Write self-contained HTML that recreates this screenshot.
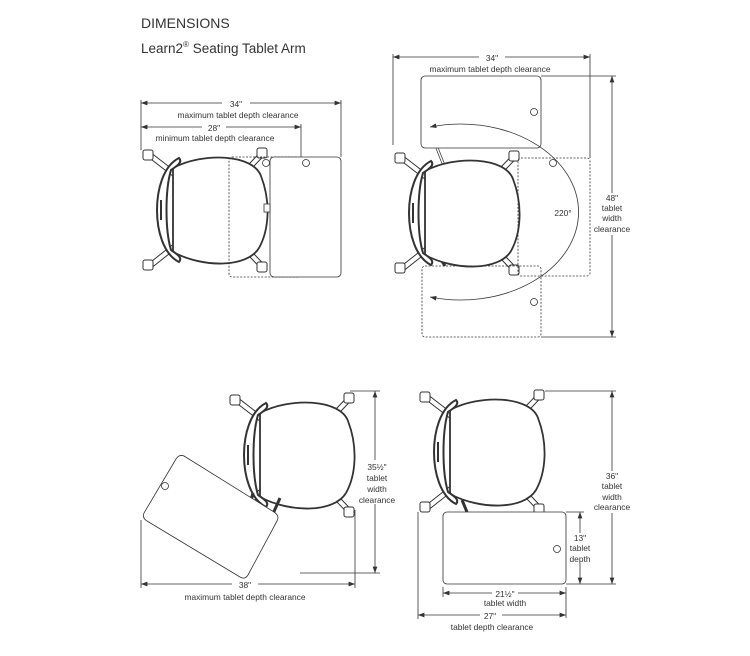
<!DOCTYPE html>
<html><head><meta charset="utf-8"><style>
html,body{margin:0;padding:0;background:#fff;width:750px;height:656px;overflow:hidden}
svg{display:block}
text{font-family:"Liberation Sans",sans-serif;fill:#333}
.s{font-size:8.4px;text-anchor:middle}
</style></head><body>
<svg width="750" height="656" viewBox="0 0 750 656">
<defs>
<marker id="a" markerWidth="8" markerHeight="6" refX="8" refY="3" orient="auto-start-reverse"><path d="M0,0 L8,3 L0,6 z" fill="#333"/></marker>
<g id="chair" stroke="#333" fill="#fff">
 <line x1="-5" y1="-10" x2="-62" y2="-54" stroke-width="6" stroke="#333"/>
 <line x1="-5" y1="-10" x2="-62" y2="-54" stroke-width="4" stroke="#fff"/>
 <line x1="-5" y1="10" x2="-62" y2="55" stroke-width="6" stroke="#333"/>
 <line x1="-5" y1="10" x2="-62" y2="55" stroke-width="4" stroke="#fff"/>
 <line x1="5" y1="-10" x2="50" y2="-57" stroke-width="6" stroke="#333"/>
 <line x1="5" y1="-10" x2="50" y2="-57" stroke-width="4" stroke="#fff"/>
 <line x1="5" y1="10" x2="50" y2="57" stroke-width="6" stroke="#333"/>
 <line x1="5" y1="10" x2="50" y2="57" stroke-width="4" stroke="#fff"/>
 <rect x="-70" y="-60" width="10" height="10" rx="2" stroke-width="1"/>
 <rect x="-70" y="50" width="10" height="10" rx="2" stroke-width="1"/>
 <rect x="44" y="-62" width="10" height="10" rx="2" stroke-width="1"/>
 <rect x="44" y="52" width="10" height="10" rx="2" stroke-width="1"/>
 <path d="M-40,-42 C-10,-58 40,-56 48,-34 C58,-8 56,20 46,38 C34,58 -10,58 -40,42 Z" stroke-width="1.8"/>
 <path d="M-34,-52 C-50,-44 -56,-20 -56,0 C-56,20 -50,44 -34,52 C-30,48 -36,44 -42,40 C-48,20 -48,-20 -42,-40 C-36,-44 -30,-48 -34,-52 Z" stroke-width="2"/>
 <line x1="-52" y1="-10" x2="-52" y2="10" stroke-width="2"/>
</g>
</defs>
<text x="141" y="28" style="font-size:14px">DIMENSIONS</text>
<text x="141" y="53" style="font-size:13.5px">Learn2<tspan style="font-size:8px" dy="-6">®</tspan><tspan dy="6"> Seating Tablet Arm</tspan></text>

<g stroke="#333" stroke-width="0.8" fill="none">
<line x1="141" y1="100" x2="141" y2="150"/><line x1="341" y1="100" x2="341" y2="157"/><line x1="301" y1="124" x2="301" y2="157"/>
<line x1="141" y1="103" x2="341" y2="103" marker-start="url(#a)" marker-end="url(#a)"/>
<line x1="141" y1="127" x2="301" y2="127" marker-start="url(#a)" marker-end="url(#a)"/>
</g>
<use href="#chair" transform="translate(213,210)"/>
<g stroke="#333" stroke-width="0.8" fill="none">
<rect x="229" y="157" width="72" height="120" rx="3" stroke-dasharray="2,1.5" fill="none"/>
<rect x="270" y="157" width="71" height="120" rx="4" fill="#fff"/>
<circle cx="266" cy="163" r="3.5"/><circle cx="306" cy="163" r="3.5"/>
<rect x="264" y="204" width="6" height="8" fill="#fff"/>
</g>
<rect x="222" y="99" width="28" height="8" fill="#fff"/><text class="s" x="236" y="107">34"</text>
<text class="s" x="238" y="118">maximum tablet depth clearance</text>
<rect x="202" y="123" width="24" height="8" fill="#fff"/><text class="s" x="214" y="131">28"</text>
<text class="s" x="215" y="141">minimum tablet depth clearance</text>

<g stroke="#333" stroke-width="0.8" fill="none">
<line x1="393" y1="54" x2="393" y2="145"/><line x1="590" y1="54" x2="590" y2="158"/>
<line x1="393" y1="57" x2="590" y2="57" marker-start="url(#a)" marker-end="url(#a)"/>
<line x1="541" y1="76" x2="616" y2="76"/><line x1="541" y1="337" x2="616" y2="337"/>
<line x1="612" y1="76" x2="612" y2="337" marker-start="url(#a)" marker-end="url(#a)"/>
<line x1="437" y1="148" x2="445" y2="168" stroke-width="3"/><line x1="437" y1="148" x2="445" y2="168" stroke="#fff" stroke-width="1.5"/>
<line x1="440" y1="258" x2="445" y2="266" stroke-width="3"/>
</g>
<use href="#chair" transform="translate(465,213)"/>
<g stroke="#333" stroke-width="0.8" fill="none">
<rect x="421" y="76" width="120" height="72" rx="4" fill="#fff"/>
<circle cx="534" cy="112" r="3.5"/>
<rect x="518" y="158" width="72" height="118" rx="3" stroke-dasharray="2,1.5"/>
<circle cx="553" cy="163" r="3.5"/>
<rect x="422" y="266" width="119" height="71" rx="3" stroke-dasharray="2,1.5"/>
<circle cx="534" cy="302" r="3.5"/>
<path d="M430,127 A118 88 0 1 1 430,297" marker-start="url(#a)" marker-end="url(#a)"/>
</g>
<rect x="479" y="53" width="26" height="8" fill="#fff"/><text class="s" x="492" y="61">34"</text>
<text class="s" x="490" y="72">maximum tablet depth clearance</text>
<rect x="552" y="206" width="22" height="11" fill="#fff"/><text class="s" x="563" y="216">220°</text>
<rect x="594" y="193" width="36" height="42" fill="#fff"/>
<text class="s" x="612" y="201">48"</text><text class="s" x="612" y="211">tablet</text><text class="s" x="612" y="221">width</text><text class="s" x="612" y="232">clearance</text>

<g stroke="#333" stroke-width="0.8" fill="none">
<line x1="141" y1="520" x2="141" y2="588"/><line x1="355" y1="510" x2="355" y2="588"/>
<line x1="141" y1="584" x2="355" y2="584" marker-start="url(#a)" marker-end="url(#a)"/>
<line x1="350" y1="391" x2="380" y2="391"/><line x1="300" y1="573" x2="380" y2="573"/>
<line x1="375" y1="391" x2="375" y2="573" marker-start="url(#a)" marker-end="url(#a)"/>
</g>
<use href="#chair" transform="translate(300,455)"/>
<g stroke="#333" stroke-width="0.8" fill="none">
<line x1="253" y1="493" x2="250" y2="505" stroke-width="3"/>
<line x1="280" y1="498" x2="272" y2="516" stroke-width="3"/>
<path d="M184,456 L274,512 Q280,516 277,521 L248,575 Q245,580 240,577 L147,521 Q142,518 144,513 L176,459 Q179,454 184,456 Z" fill="#fff"/>
<circle cx="165" cy="486" r="3.5"/>
</g>
<rect x="232" y="580" width="26" height="8" fill="#fff"/><text class="s" x="245" y="588">38"</text>
<text class="s" x="245" y="600">maximum tablet depth clearance</text>
<rect x="359" y="460" width="36" height="44" fill="#fff"/>
<text class="s" x="377" y="470">35½"</text><text class="s" x="377" y="481">tablet</text><text class="s" x="377" y="492">width</text><text class="s" x="377" y="503">clearance</text>

<g stroke="#333" stroke-width="0.8" fill="none">
<line x1="545" y1="391" x2="616" y2="391"/><line x1="566" y1="584" x2="616" y2="584"/>
<line x1="612" y1="391" x2="612" y2="584" marker-start="url(#a)" marker-end="url(#a)"/>
<line x1="566" y1="512" x2="584" y2="512"/>
<line x1="580" y1="512" x2="580" y2="584" marker-start="url(#a)" marker-end="url(#a)"/>
<line x1="443" y1="587" x2="443" y2="597"/><line x1="566" y1="587" x2="566" y2="618"/>
<line x1="443" y1="593" x2="566" y2="593" marker-start="url(#a)" marker-end="url(#a)"/>
<line x1="418" y1="512" x2="418" y2="619"/>
<line x1="418" y1="615" x2="566" y2="615" marker-start="url(#a)" marker-end="url(#a)"/>
<line x1="462" y1="500" x2="467" y2="512" stroke-width="3"/>
</g>
<use href="#chair" transform="translate(490,452)"/>
<g stroke="#333" stroke-width="0.8" fill="none">
<rect x="443" y="512" width="123" height="72" rx="4" fill="#fff"/>
<circle cx="557" cy="549" r="3.5"/>
</g>
<rect x="570" y="533" width="22" height="30" fill="#fff"/>
<text class="s" x="580" y="541">13"</text><text class="s" x="580" y="551">tablet</text><text class="s" x="580" y="562">depth</text>
<rect x="594" y="471" width="36" height="42" fill="#fff"/>
<text class="s" x="612" y="479">36"</text><text class="s" x="612" y="489">tablet</text><text class="s" x="612" y="500">width</text><text class="s" x="612" y="510">clearance</text>
<rect x="492" y="589" width="26" height="8" fill="#fff"/><text class="s" x="505" y="597">21½"</text>
<text class="s" x="505" y="606">tablet width</text>
<rect x="480" y="611" width="22" height="8" fill="#fff"/><text class="s" x="490" y="619">27"</text>
<text class="s" x="492" y="630">tablet depth clearance</text>
</svg>
</body></html>
